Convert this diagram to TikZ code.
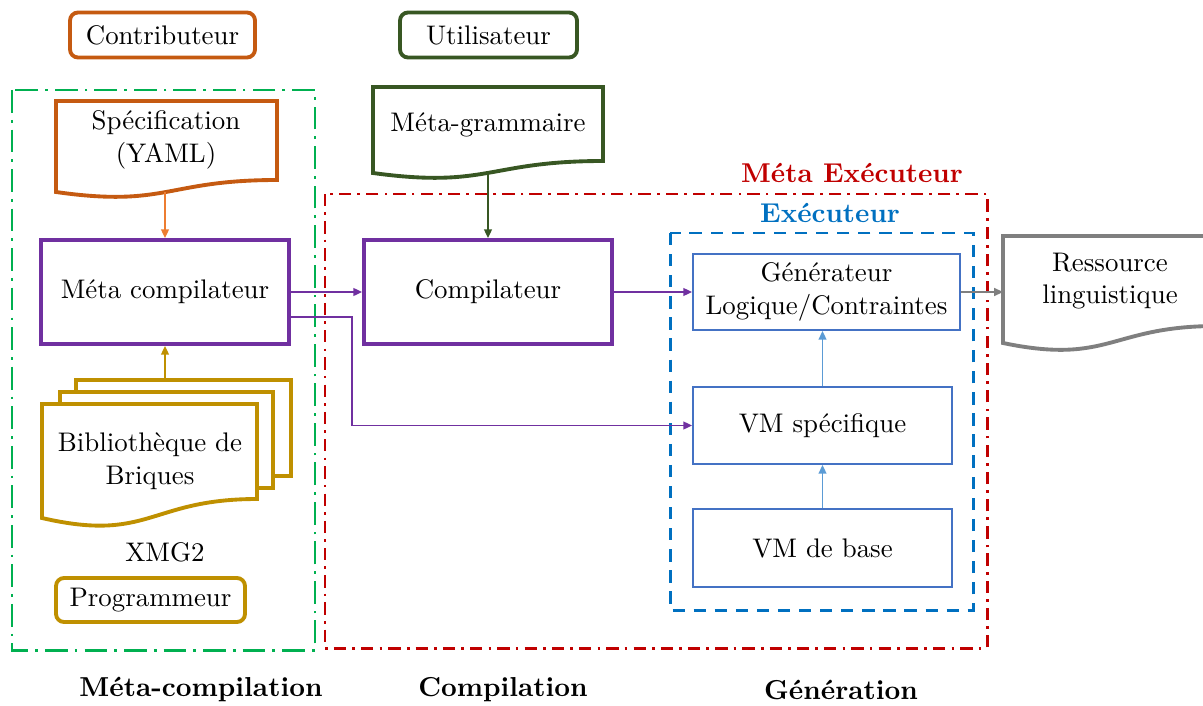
\documentclass[tikz,border=0pt]{standalone}
\usepackage{fontspec}
\setmainfont{lmroman10-regular.otf}[BoldFont=lmroman10-bold.otf,ItalicFont=lmroman10-italic.otf]
\usetikzlibrary{arrows.meta,calc}
\definecolor{corange}{HTML}{C55A11}
\definecolor{corangelight}{HTML}{ED7D31}
\definecolor{cdgreen}{HTML}{385723}
\definecolor{cgold}{HTML}{BF9000}
\definecolor{cpurple}{HTML}{7030A0}
\definecolor{cgreen}{HTML}{00B050}
\definecolor{cred}{HTML}{C00000}
\definecolor{cblue}{HTML}{0070C0}
\definecolor{cboxblue}{HTML}{4472C4}
\definecolor{clblue}{HTML}{5B9BD5}
\definecolor{cgray}{HTML}{7F7F7F}
\newcommand\docshape[6]{%
  \draw[#1] (#2,#5) -- (#2,#3) -- (#4,#3) -- (#4,#6)
    .. controls ({(#2+#4)/2},#6) and ({(#2+#4)/2},{#6+2.31*(#5-#6)}) .. (#2,#5) -- cycle;}
\begin{document}
\begin{tikzpicture}[x=0.02cm,y=-0.02cm,
  every node/.style={font=\fontsize{15.3}{18.5}\selectfont, align=center, inner sep=0pt},
  thickbox/.style={draw, line width=2.2pt, minimum height=2.08cm, minimum width=4.96cm},
  vmbox/.style={draw=cboxblue, line width=1.1pt, minimum width=5.18cm},
  actor/.style={draw, rounded corners=0.16cm, line width=2.2pt, minimum height=0.9cm},
  docstyle/.style={line width=2.2pt, fill=white},
  arr/.style={-{Triangle[length=5pt,width=4.5pt]}, line width=0.9pt},
  frameline/.style={line width=1.7pt},
  steplabel/.style={font=\fontsize{15.6}{18}\selectfont\bfseries}
]
\useasboundingbox (0,0) rectangle (1203,706);

% frames
\draw[frameline, cgreen, dash pattern=on 13pt off 4pt on 1.5pt off 4pt] (12,90) rectangle (315,650);
\draw[frameline, cred, dash pattern=on 7pt off 3.5pt on 1.5pt off 3.5pt] (325,194) rectangle (987,648);
\draw[frameline, cblue, dash pattern=on 7pt off 5pt] (670,233) rectangle (973,610);

% actors
\node[actor, draw=corange, minimum width=3.7cm] (contrib) at (162.5,35) {Contributeur};
\node[actor, draw=cdgreen, minimum width=3.54cm] (util) at (488.5,35) {Utilisateur};
\node[actor, draw=cgold, minimum width=3.78cm, minimum height=0.88cm] (prog) at (150.5,600) {Programmeur};

% main boxes
\node[thickbox, draw=cpurple] (metacomp) at (165,292) {Méta compilateur};
\node[thickbox, draw=cpurple] (comp) at (488,292) {Compilateur};
\node[vmbox, minimum width=5.34cm, minimum height=1.52cm] (gen) at (826.5,292) {Générateur\\Logique/Contraintes};
\node[vmbox, minimum height=1.54cm] (vmspec) at (822.5,425.5) {VM spécifique};
\node[vmbox, minimum height=1.56cm] (vmbase) at (822.5,548) {VM de base};

% documents
\docshape{docstyle, draw=corange}{56}{101}{277}{192}{180}
\node (spec) at (166,140) {Spécification\\(YAML)};
\coordinate (specb) at (165,192);

\docshape{docstyle, draw=cdgreen}{373}{87}{603}{173}{161}
\node (mg) at (488,125) {Méta-grammaire};
\coordinate (mgb) at (488,173);

\draw[docstyle, draw=cgold] (76,380) rectangle (291,476);
\draw[docstyle, draw=cgold] (60,392) rectangle (273,488);
\docshape{docstyle, draw=cgold}{42}{404}{257}{518}{499}
\node (bib) at (150,461) {Bibliothèque de\\Briques};
\coordinate (bibtop) at (165,380);
\node (xmg) at (165,552) {XMG2};

\begin{scope}
\clip (0,0) rectangle (1203,706);
\docshape{docstyle, draw=cgray}{1003}{236}{1217}{343}{326}
\end{scope}
\node (res) at (1110,281) {Ressource\\linguistique};
\coordinate (resw) at (1003,292);

% labels
\node[font=\fontsize{15.5}{18}\selectfont\bfseries, text=cred] (metaexec) at (852,173) {Méta Exécuteur};
\node[font=\fontsize{15.5}{18}\selectfont\bfseries, text=cblue] (exec) at (830,213) {Exécuteur};
\node[steplabel] (l1) at (201,690) {Méta-compilation};
\node[steplabel] (l2) at (503,690) {Compilation};
\node[steplabel] (l3) at (841,690) {Génération};

% connectors
\draw[arr, corangelight] (specb) -- (metacomp.north);
\draw[arr, cgold] (bibtop) -- (metacomp.south);
\draw[arr, cdgreen] (mgb) -- (comp.north);
\draw[arr, cpurple] (metacomp.east) -- (comp.west);
\draw[arr, cpurple] (comp.east) -- (gen.west);
\draw[arr, cpurple] ($(metacomp.east)+(0,25)$) -- ++(61,0) |- (vmspec.west);
\draw[arr, clblue] (vmbase.north) -- (vmspec.south);
\draw[arr, clblue] (vmspec.north) -- (vmspec.north |- gen.south);
\draw[arr, cgray] (gen.east) -- (resw);
\end{tikzpicture}
\end{document}
